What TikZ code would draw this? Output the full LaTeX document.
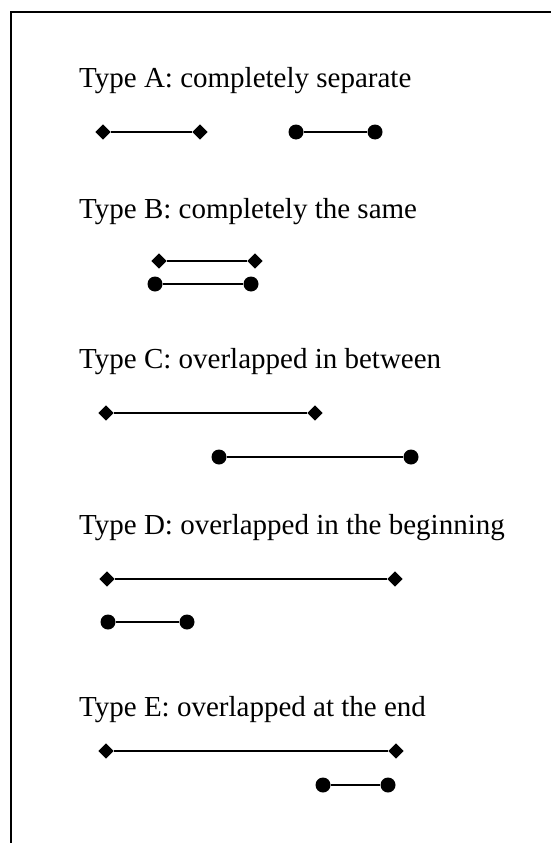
\documentclass[tikz,border=0pt]{standalone}
\usepackage{fontspec}
\setmainfont{Liberation Serif}
\usetikzlibrary{shapes.geometric}
\begin{document}
\begin{tikzpicture}[x=1pt,y=-1pt,
  label/.style={anchor=base west,inner sep=0pt,font=\fontsize{29}{35}\selectfont},
  dia/.style={diamond,fill=black,draw=none,inner sep=0pt,minimum width=15.5pt,minimum height=15.5pt},
  dot/.style={circle,fill=black,draw=none,inner sep=0pt,minimum size=15pt},
  dialine/.style={line width=2.8pt},
  dotline/.style={line width=2.2pt}]
\useasboundingbox (0,0) rectangle (551,843);
% open frame: top and left edges only
\draw[line width=2pt] (11,843) -- (11,12) -- (551,12);

% Type A
\node[label] (ta) at (79,88) {Type A: completely separate};
\node[dia] (a1) at (103,132) {};
\node[dia] (a2) at (200,132) {};
\node[dot] (a3) at (296,132) {};
\node[dot] (a4) at (375,132) {};
\draw[dialine] (a1) -- (a2);
\draw[dotline] (a3) -- (a4);

% Type B
\node[label] (tb) at (79,218) {Type B: completely the same};
\node[dia] (b1) at (159,261) {};
\node[dia] (b2) at (255,261) {};
\node[dot] (b3) at (155,284) {};
\node[dot] (b4) at (251,284) {};
\draw[dialine] (b1) -- (b2);
\draw[dotline] (b3) -- (b4);

% Type C
\node[label] (tc) at (79,368) {Type C: overlapped in between};
\node[dia] (c1) at (106,413) {};
\node[dia] (c2) at (315,413) {};
\node[dot] (c3) at (219,457) {};
\node[dot] (c4) at (411,457) {};
\draw[dialine] (c1) -- (c2);
\draw[dotline] (c3) -- (c4);

% Type D
\node[label] (td) at (79,534) {Type D: overlapped in the beginning};
\node[dia] (d1) at (107,579) {};
\node[dia] (d2) at (395,579) {};
\node[dot] (d3) at (108,622) {};
\node[dot] (d4) at (187,622) {};
\draw[dialine] (d1) -- (d2);
\draw[dotline] (d3) -- (d4);

% Type E
\node[label] (te) at (79,716) {Type E: overlapped at the end};
\node[dia] (e1) at (106,751) {};
\node[dia] (e2) at (396,751) {};
\node[dot] (e3) at (323,785) {};
\node[dot] (e4) at (388,785) {};
\draw[dialine] (e1) -- (e2);
\draw[dotline] (e3) -- (e4);
\end{tikzpicture}
\end{document}
